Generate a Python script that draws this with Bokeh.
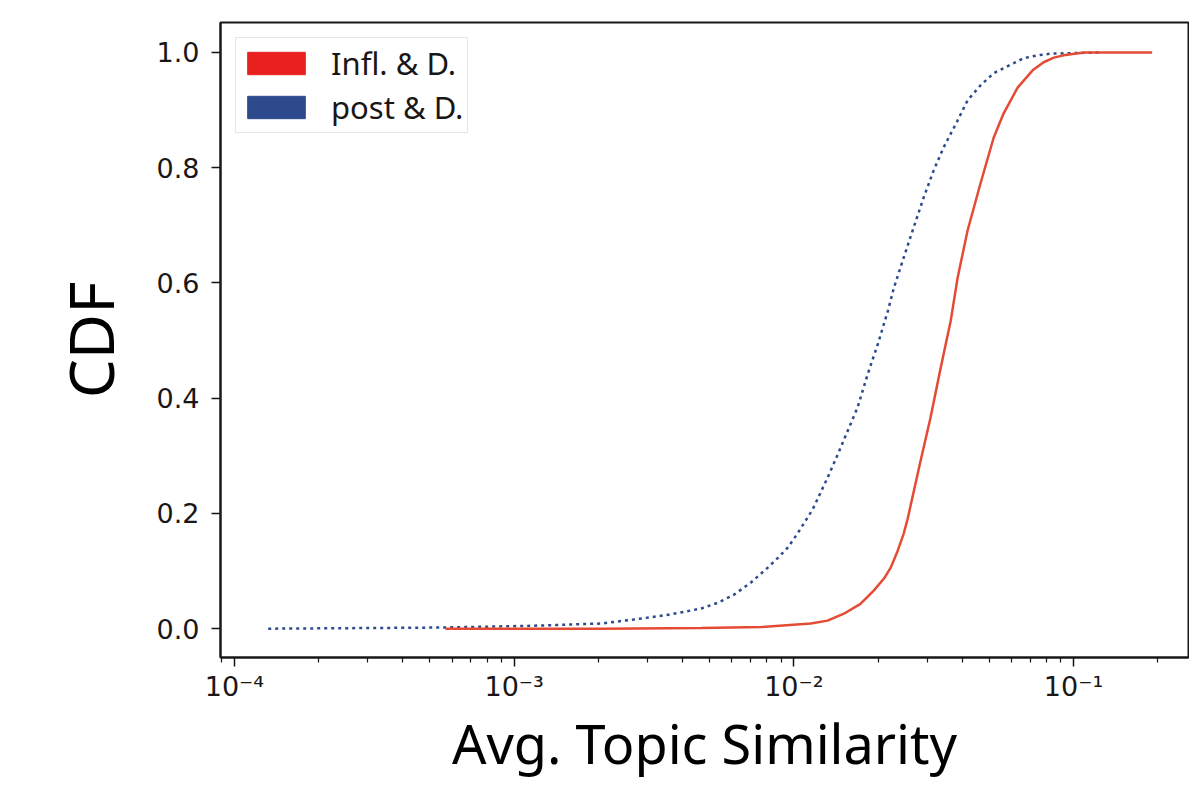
from bokeh.plotting import figure
from bokeh.models import (Range1d, FixedTicker, CustomJSTickFormatter, Legend, LegendItem,
                          NumeralTickFormatter)
from bokeh.embed import file_html
from bokeh.resources import INLINE

# ---- data ----
red_x = [5.68e-4, 2.05e-3, 4.66e-3, 7.63e-3, 1.15e-2, 1.32e-2, 1.51e-2, 1.73e-2, 1.93e-2,
         2.10e-2, 2.22e-2, 2.35e-2, 2.47e-2, 2.55e-2, 2.84e-2, 3.08e-2, 3.35e-2,
         3.64e-2, 3.85e-2, 4.18e-2, 4.65e-2, 5.18e-2, 5.62e-2, 6.31e-2, 7.14e-2, 7.82e-2,
         8.50e-2, 9.21e-2, 1.09e-1, 1.91e-1]
red_y = [0.0, 0.0, 0.001, 0.003, 0.009, 0.014, 0.026, 0.043, 0.066,
         0.087, 0.106, 0.135, 0.165, 0.19, 0.292, 0.366, 0.453,
         0.535, 0.609, 0.691, 0.773, 0.852, 0.894, 0.939, 0.969, 0.983,
         0.991, 0.995, 1.0, 1.0]

blue_x = [1.32e-4, 5.48e-4, 1.15e-3, 2.05e-3, 2.68e-3, 3.55e-3, 4.66e-3, 5.35e-3, 6.11e-3,
          7.02e-3, 8.07e-3, 8.77e-3, 9.52e-3, 1.03e-2, 1.12e-2, 1.17e-2, 1.32e-2, 1.44e-2,
          1.56e-2, 1.69e-2, 1.84e-2, 2.00e-2, 2.17e-2, 2.28e-2, 2.47e-2, 2.68e-2, 2.91e-2,
          3.16e-2, 3.43e-2, 3.85e-2, 4.18e-2, 4.65e-2, 5.18e-2, 5.86e-2, 6.63e-2, 7.43e-2,
          8.28e-2, 1.25e-1]
blue_y = [0.0, 0.002, 0.005, 0.009, 0.016, 0.024, 0.035, 0.045, 0.059,
          0.080, 0.106, 0.123, 0.141, 0.165, 0.193, 0.208, 0.262, 0.304,
          0.344, 0.384, 0.443, 0.495, 0.552, 0.592, 0.644, 0.696, 0.748,
          0.795, 0.835, 0.882, 0.917, 0.943, 0.964, 0.977, 0.990, 0.995,
          0.998, 1.0]

series_labels = ["Infl. & D.", "post & D."]
x_major_ticks = [1e-4, 1e-3, 1e-2, 1e-1]
x_minor_ticks = [k * 10.0 ** d for d in range(-5, 0) for k in range(2, 10)]
y_ticks = [0.0, 0.2, 0.4, 0.6, 0.8, 1.0]

RED_LINE = "#e54b34"
RED_PATCH = "#e8211e"
BLUE = "#2d4b8c"
DARK = "#1a1616"
NAN = float("nan")

p = figure(width=1189, height=786, x_axis_type="log",
           x_range=Range1d(10 ** -4.05, 10 ** -0.589), y_range=Range1d(-0.05, 1.052),
           output_backend="svg", toolbar_location=None,
           min_border_left=220, min_border_right=1, min_border_top=22, min_border_bottom=129)

p.grid.visible = False
p.background_fill_color = "white"
p.border_fill_color = "white"
p.outline_line_color = DARK
p.outline_line_width = 2

p.line(blue_x, blue_y, line_color=BLUE, line_width=2.5, line_dash="3 4")
p.line(red_x, red_y, line_color=RED_LINE, line_width=2.5)

# legend proxies (patch style, nothing drawn in the plot)
r1 = p.quad(left=[NAN], right=[NAN], top=[NAN], bottom=[NAN],
            fill_color=RED_PATCH, line_color=RED_PATCH)
r2 = p.quad(left=[NAN], right=[NAN], top=[NAN], bottom=[NAN],
            fill_color=BLUE, line_color=BLUE)
legend = Legend(items=[LegendItem(label=series_labels[0], renderers=[r1]),
                       LegendItem(label=series_labels[1], renderers=[r2])],
                location="top_left", margin=15, padding=4, spacing=2,
                glyph_width=72, glyph_height=28, label_height=22, label_standoff=19,
                label_text_font="Noto Sans", label_text_font_size="31px",
                label_text_color=DARK,
                border_line_color="#cccccc", border_line_width=1.5,
                background_fill_color="white", background_fill_alpha=0.8)
p.add_layout(legend)

# x axis
xa = p.xaxis[0]
xa.ticker = FixedTicker(ticks=x_major_ticks, minor_ticks=x_minor_ticks)
xa.formatter = CustomJSTickFormatter(code="""
const sup = {"-":"\u207b","0":"\u2070","1":"\u00b9","2":"\u00b2","3":"\u00b3","4":"\u2074","5":"\u2075"};
const e = Math.round(Math.log10(tick));
return "10" + String(e).split("").map(c => sup[c]).join("");
""")
xa.axis_label = "Avg. Topic Similarity"

ya = p.yaxis[0]
ya.ticker = FixedTicker(ticks=y_ticks)
ya.formatter = NumeralTickFormatter(format="0.0")
ya.axis_label = "CDF"

for ax in (xa, ya):
    ax.axis_line_color = DARK
    ax.axis_line_width = 2
    ax.major_tick_line_color = DARK
    ax.major_tick_line_width = 1.5
    ax.minor_tick_line_color = DARK
    ax.minor_tick_line_width = 1.2
    ax.major_tick_in = 0
    ax.major_tick_out = 9
    ax.minor_tick_in = 0
    ax.minor_tick_out = 5
    ax.major_label_text_font = "DejaVu Sans"
    ax.major_label_text_font_size = "27px"
    ax.major_label_text_color = DARK
    ax.axis_label_text_font = "Noto Sans"
    ax.axis_label_text_font_style = "normal"
    ax.axis_label_text_color = "#000000"

ya.minor_tick_out = 0
ya.major_label_standoff = 12
xa.major_label_standoff = 4
xa.axis_label_text_font_size = "54px"
ya.axis_label_text_font_size = "62px"
xa.axis_label_standoff = 1
ya.axis_label_standoff = 22

open("out.html", "w").write(file_html(p, INLINE))
